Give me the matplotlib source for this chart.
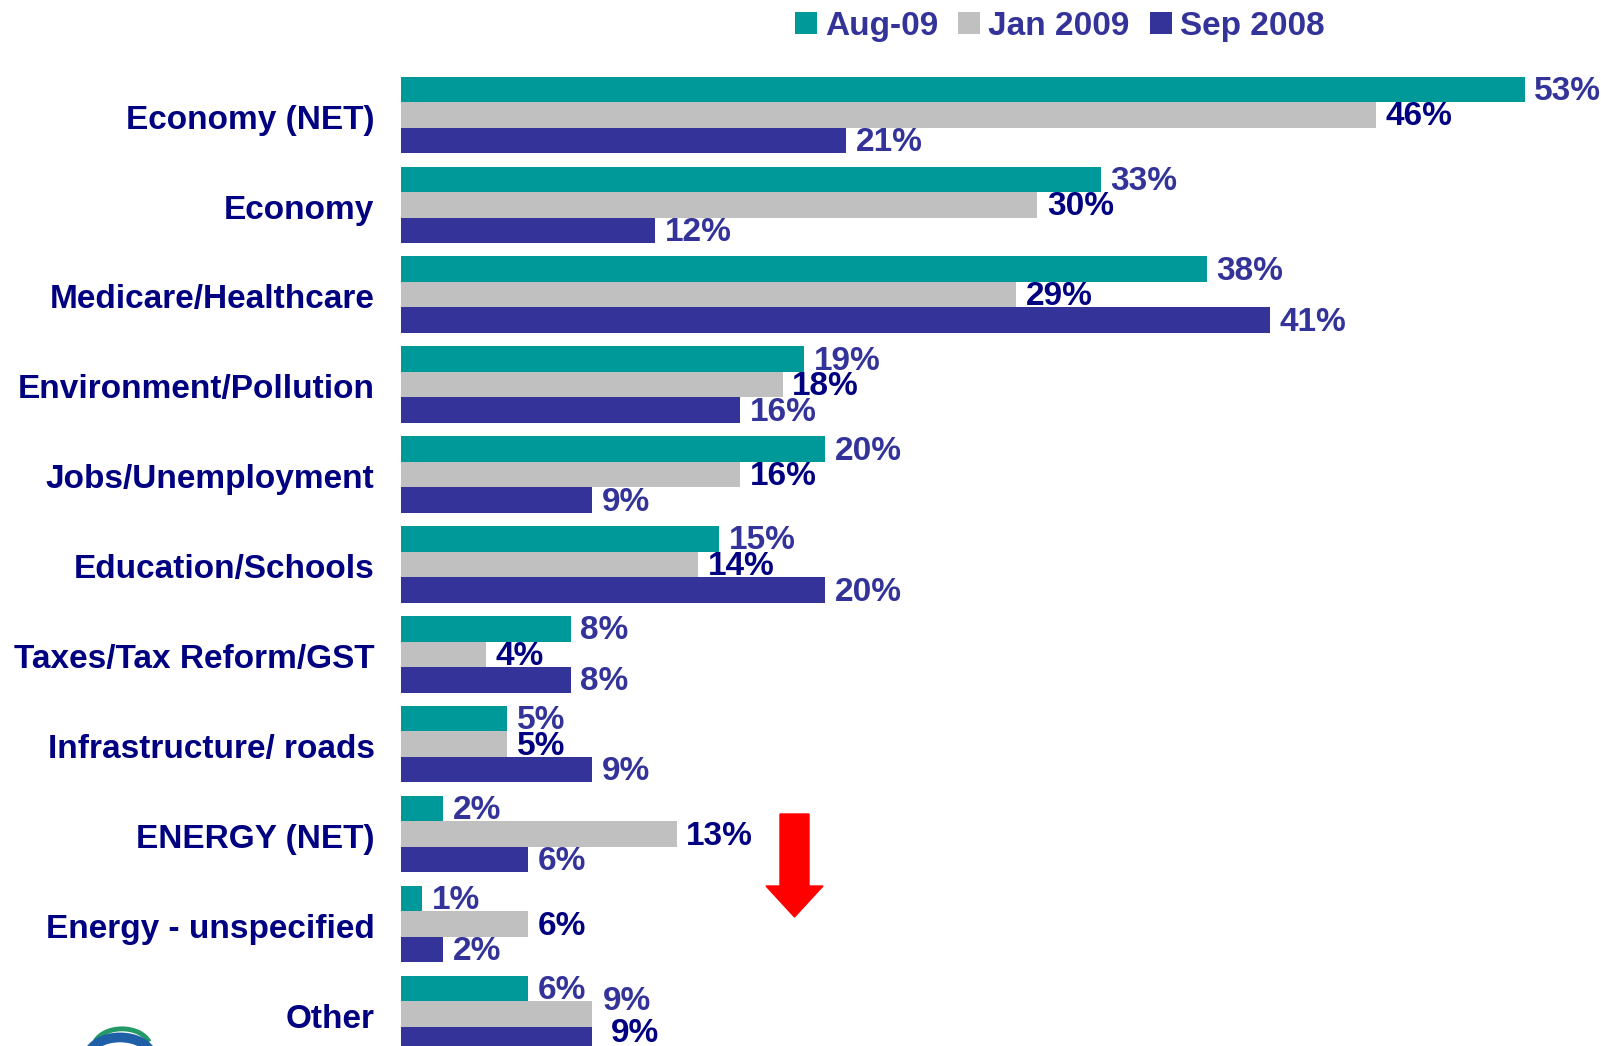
import matplotlib.pyplot as plt
import matplotlib.patches as mpatches
import numpy as np

# categories, top to bottom
categories = ['Economy (NET)', 'Economy', 'Medicare/Healthcare', 'Environment/Pollution',
              'Jobs/Unemployment', 'Education/Schools', 'Taxes/Tax Reform/GST',
              'Infrastructure/ roads', 'ENERGY (NET)', 'Energy - unspecified', 'Other']
aug09 = [53, 33, 38, 19, 20, 15, 8, 5, 2, 1, 6]
jan09 = [46, 30, 29, 18, 16, 14, 4, 5, 13, 6, 9]
sep08 = [21, 12, 41, 16, 9, 20, 8, 9, 6, 2, 9]
series_names = ['Aug-09', 'Jan 2009', 'Sep 2008']

teal = '#009999'
grey = '#C0C0C0'
navy = '#333399'
dark = '#000080'

plt.rcParams['font.family'] = ['Liberation Sans', 'DejaVu Sans']
plt.rcParams['font.weight'] = 'bold'

W, H = 1601, 1046
fig = plt.figure(figsize=(W / 100, H / 100), dpi=100)

# axes geometry in pixels
x0 = 401
px_per_pct = 21.2
pitch = 89.9
first_center = 114.9
ax = fig.add_axes([x0 / W, 0, (W - x0) / W, 1])
ax.set_xlim(0, (W - x0) / px_per_pct)
ax.set_ylim((H - first_center) / pitch, -first_center / pitch)

h = 0.284
y = np.arange(len(categories))
series = [(aug09, teal, navy, -h), (jan09, grey, dark, 0), (sep08, navy, navy, h)]
bars = []
for vals, col, lcol, off in series:
    b = ax.barh(y + off, vals, height=h, color=col, edgecolor='none')
    bars.append(b)
    for i, v in enumerate(vals):
        dx, dy = 7, -1.5
        if categories[i] == 'Other':
            # labels on the last group are shifted in the original
            if col == grey:
                dx, dy = 14, -14
            elif col == navy:
                dx, dy = 8, 27
        ax.annotate(f'{v}%', (v, i + off), xytext=(dx, dy), textcoords='offset points',
                    va='center', ha='left', fontsize=24, fontweight='bold', color=lcol,
                    annotation_clip=False)

ax.set_yticks(y + 0.02)
ax.set_yticklabels(categories, fontsize=24, fontweight='bold', color=dark)
ax.tick_params(axis='y', length=0, pad=19)
ax.set_xticks([])
for s in ax.spines.values():
    s.set_visible(False)

fig.legend(bars, series_names, loc='center', bbox_to_anchor=(0.662, 0.975), ncol=3,
           frameon=False, handlelength=0.65, handleheight=0.65,
           handletextpad=0.25, columnspacing=0.6, labelcolor=navy,
           prop={'weight': 'bold', 'size': 24})

# red down arrow
arrow = mpatches.FancyArrow(794.5 / W, 1 - 814 / H, 0, -(917 - 814) / H,
                            width=29 / W, head_width=57 / W, head_length=31 / H,
                            length_includes_head=True, color='#FF0000',
                            transform=fig.transFigure)
fig.patches.append(arrow)

# partial logo at bottom left
lax = fig.add_axes([80 / W, 0, 80 / W, 40 / H])
lax.set_xlim(-1, 1)
lax.set_ylim(-1.1, 0.3)
lax.axis('off')
lax.add_patch(mpatches.Arc((0.05, -1.2), 1.45, 1.4, theta1=20, theta2=160, color='#229966', lw=3.5))
lax.add_patch(mpatches.Arc((0, -1.5), 1.6, 1.4, theta1=10, theta2=170, color='#1f5fa8', lw=7))

fig.savefig('out.png', dpi=100)
